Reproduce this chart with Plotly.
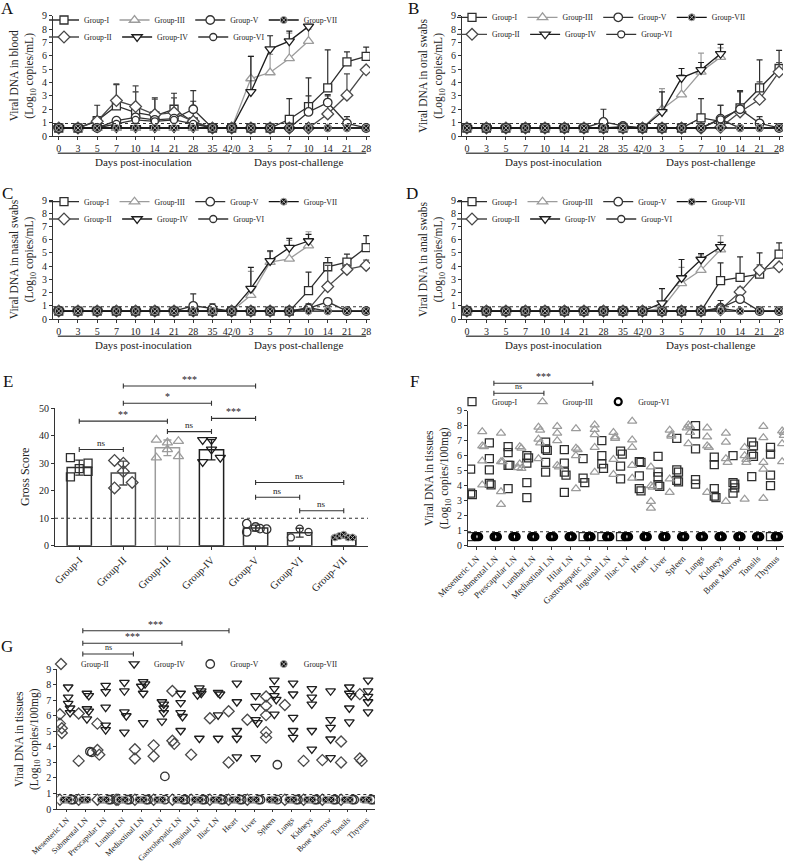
import numpy as np
import plotly.graph_objects as go

W, H = 788, 864
FONT = 'Liberation Serif'
INK = '#222222'

# ---------------- data ----------------
DAYS = ['0', '3', '5', '7', '10', '14', '21', '28', '35', '42/0', '3', '5', '7', '10', '14', '21', '28']
GROUPS = ['Group-I', 'Group-II', 'Group-III', 'Group-IV', 'Group-V', 'Group-VI', 'Group-VII']
LOD = 0.93
N = None
B6 = [0.6] * 10

BLOOD_MEAN = {
    'Group-I':   [0.6, 0.6, 1.15, 2.25, 1.75, 1.5, 2.0, 1.05, 0.6, 0.6, 0.6, 0.6, 1.25, 2.2, 3.6, 5.55, 5.95],
    'Group-II':  [0.6, 0.6, 1.1, 2.65, 2.2, 1.6, 1.75, 1.1, 0.6, 0.6, 0.6, 0.6, 0.6, 0.6, 1.65, 3.05, 4.95],
    'Group-III': B6 + [4.3, 4.75, 5.8, 7.1, N, N, N],
    'Group-IV':  B6 + [3.3, 6.5, 7.1, 8.2, N, N, N],
    'Group-V':   [0.6, 0.6, 0.6, 1.15, 1.4, 1.2, 1.3, 2.0, 0.6, 0.6, 0.6, 0.6, 0.6, 1.8, 2.5, 0.95, 0.6],
    'Group-VI':  [0.6, 0.6, 0.6, 0.9, 1.2, 1.1, 1.2, 0.9, 0.6, 0.6, 0.6, 0.6, 0.6, 0.6, 0.6, 0.6, 0.6],
    'Group-VII': [0.6] * 17,
}
BLOOD_SD = {
    'Group-I':   [N, N, 1.15, 1.6, 1.55, 1.35, 1.2, 1.55, N, N, N, N, 1.55, 2.15, 2.85, 0.75, 0.7],
    'Group-II':  [N, N, N, 1.25, 1.55, 1.15, 1.1, N, N, N, N, N, N, N, 1.35, 1.6, N],
    'Group-III': [N] * 10 + [1.65, 1.35, 1.9, 0.9, N, N, N],
    'Group-IV':  [N] * 10 + [2.65, 1.0, 0.75, 0.15, N, N, N],
    'Group-V':   [N, N, N, N, N, N, N, 1.4, N, N, N, N, N, 1.2, 0.6, 0.5, N],
    'Group-VI':  [N] * 17,
    'Group-VII': [N] * 17,
}
ORAL_MEAN = {
    'Group-I':   B6 + [0.6, 0.6, 1.35, 1.1, 2.1, 3.6, 5.05],
    'Group-II':  B6 + [0.6, 0.6, 0.6, 0.65, 1.8, 2.75, 4.8],
    'Group-III': B6 + [2.0, 3.1, 4.8, 5.9, N, N, N],
    'Group-IV':  B6 + [1.8, 4.35, 4.95, 6.15, N, N, N],
    'Group-V':   [0.6] * 7 + [1.05, 0.75, 0.6] + [0.6, 0.6, 0.6, 1.3, 2.0, 0.95, 0.6],
    'Group-VI':  [0.6] * 8 + [0.7, 0.6] + [0.6, 0.6, 0.6, 1.25, 0.6, 0.6, 0.6],
    'Group-VII': [0.6] * 17,
}
ORAL_SD = {
    'Group-I':   [N] * 12 + [1.45, 1.2, 1.3, 2.1, 1.35],
    'Group-II':  [N] * 14 + [1.5, 1.3, 0.7],
    'Group-III': [N] * 10 + [1.55, 1.5, 1.4, 0.7, N, N, N],
    'Group-IV':  [N] * 10 + [1.5, 0.7, 0.55, 0.7, N, N, N],
    'Group-V':   [N] * 7 + [0.95, N, N, N, N, N, 1.0, 1.35, 0.5, N],
    'Group-VI':  [N] * 17,
    'Group-VII': [N] * 17,
}
NASAL_MEAN = {
    'Group-I':   B6 + [0.6, 0.6, 0.6, 2.15, 3.95, 4.3, 5.4],
    'Group-II':  B6 + [0.6, 0.6, 0.6, 0.75, 2.45, 3.75, 4.05],
    'Group-III': B6 + [1.8, 4.3, 4.55, 5.55, N, N, N],
    'Group-IV':  B6 + [2.3, 4.4, 5.4, 5.9, N, N, N],
    'Group-V':   [0.6] * 7 + [1.0, 0.8, 0.6] + [0.6, 0.6, 0.6, 0.8, 1.3, 0.6, 0.6],
    'Group-VI':  B6 + [0.6, 0.6, 0.6, 0.85, 0.6, 0.6, 0.6],
    'Group-VII': [0.6] * 17,
}
NASAL_SD = {
    'Group-I':   [N] * 13 + [1.4, 0.7, 0.6, 0.9],
    'Group-II':  [N] * 14 + [1.6, 0.35, 0.4],
    'Group-III': [N] * 10 + [1.8, 0.8, 1.4, 1.05, N, N, N],
    'Group-IV':  [N] * 10 + [1.6, 0.75, 0.7, 0.5, N, N, N],
    'Group-V':   [N] * 7 + [0.9, 0.35, N, N, N, N, 0.35, N, N, N],
    'Group-VI':  [N] * 17,
    'Group-VII': [N] * 17,
}
ANAL_MEAN = {
    'Group-I':   B6 + [0.6, 0.6, 0.6, 2.9, 3.15, 3.4, 4.9],
    'Group-II':  B6 + [0.6, 0.6, 0.6, 0.7, 2.05, 3.7, 3.95],
    'Group-III': B6 + [0.8, 2.7, 3.7, 5.25, N, N, N],
    'Group-IV':  B6 + [1.2, 3.1, 4.5, 5.45, N, N, N],
    'Group-V':   B6 + [0.6, 0.6, 0.6, 0.85, 1.5, 0.6, 0.6],
    'Group-VI':  B6 + [0.6, 0.6, 0.6, 0.8, 0.6, 0.6, 0.6],
    'Group-VII': [0.6] * 17,
}
ANAL_SD = {
    'Group-I':   [N] * 13 + [1.35, 1.55, 1.6, 0.85],
    'Group-II':  [N] * 14 + [0.35, 0.4, N],
    'Group-III': [N] * 11 + [1.2, 1.15, 1.05, N, N, N],
    'Group-IV':  [N] * 10 + [1.1, 1.4, 0.45, 0.35, N, N, N],
    'Group-V':   [N] * 13 + [0.55, N, N, N],
    'Group-VI':  [N] * 17,
    'Group-VII': [N] * 17,
}

# Gross scores (individual animals)
GROSS = {
    'Group-I':   [32, 25, 28, 30, 27],
    'Group-II':  [31, 21, 30, 27, 23],
    'Group-III': [38.5, 32, 37.5, 35, 38, 32.5],
    'Group-IV':  [38.5, 38.5, 35, 30.5, 32],
    'Group-V':   [8, 5, 6.8, 6.2, 6],
    'Group-VI':  [6.2, 3, 5],
    'Group-VII': [3, 3.5, 4, 3, 3],
}
GROSS_CUTOFF = 10

TISSUES = ['Mesenteric LN', 'Submental LN', 'Prescapular LN', 'Lumbar LN', 'Mediastinal LN', 'Hilar LN',
           'Gastrohepatic LN', 'Inguinal LN', 'Iliac LN', 'Heart', 'Liver', 'Spleen', 'Lungs', 'Kidneys',
           'Bone Marrow', 'Tonsils', 'Thymus']

F_GROUP_I = [
    [5.1, 3.5, 3.4, 0.6], [6.85, 5.8, 5.05, 4.15, 4.05], [6.6, 6.2, 5.35, 5.35, 3.8], [6.0, 5.85, 5.5, 4.2, 3.2],
    [6.9, 6.45, 6.35, 5.55, 4.9], [6.4, 5.5, 4.9, 4.7, 3.55], [5.8, 4.5, 4.2, 0.6], [7.0, 6.0, 5.45, 5.15, 0.6],
    [6.3, 6.1, 5.3, 4.45, 0.6], [5.6, 5.55, 4.65, 3.8, 3.65], [5.95, 4.9, 4.6, 4.05, 3.95], [7.15, 5.05, 4.9, 4.35, 4.25],
    [8.0, 7.45, 6.45, 4.4, 4.1], [5.9, 5.4, 3.8, 3.3, 3.2], [6.0, 4.2, 4.1, 3.85, 3.5], [6.9, 6.65, 6.1, 5.95, 4.6],
    [6.55, 6.1, 4.7, 4.0, 0.6],
]
F_GROUP_III = [
    [7.6, 6.65, 6.6, 5.65, 4.05], [7.5, 5.6, 5.6, 3.6, 2.75], [6.6, 6.5, 5.45, 5.15, 5.2], [7.9, 7.7, 7.1, 6.85, 5.8],
    [7.95, 7.5, 7.0, 5.35, 5.25], [7.8, 6.5, 6.4, 6.0, 3.8], [8.05, 7.75, 7.4, 6.55, 4.9], [7.55, 7.25, 7.15, 5.75, 4.75],
    [8.3, 7.05, 6.55, 5.35, 4.5], [5.25, 4.0, 3.9, 2.95, 2.5], [7.7, 7.4, 7.3, 4.45, 3.55], [8.05, 7.95, 7.85, 7.55, 6.8],
    [7.85, 7.25, 6.65, 6.55, 3.55], [7.5, 6.9, 5.8, 5.55, 2.95], [6.55, 6.0, 5.75, 5.55, 3.1], [7.95, 7.2, 5.55, 5.1, 3.15],
    [7.65, 7.55, 7.35, 6.8, 5.6],
]
F_GROUP_VI = [[0.6, 0.6, 0.6] for _ in TISSUES]

G_GROUP_II = [
    [6.1, 5.5, 5.2, 4.9, 0.6], [6.15, 3.1, 0.6], [5.5, 3.8, 3.5, 0.6], [0.6, 0.6], [3.85, 3.25, 0.6], [4.1, 3.4, 0.6],
    [7.6, 4.4, 4.2, 0.6], [3.5, 0.6], [5.85, 0.6], [6.3, 3.0, 0.6], [5.75, 0.6], [7.25, 6.65, 6.05, 4.95, 4.6],
    [6.7, 0.6], [3.1, 0.6], [3.15, 0.6], [4.35, 3.0, 0.6], [7.4, 3.25, 3.1],
]
G_GROUP_IV = [
    [7.85, 7.2, 6.8, 6.5, 6.2], [7.45, 7.3, 6.45, 6.3, 5.8], [7.95, 7.55, 6.55, 5.4, 5.1], [8.15, 7.6, 6.25, 6.0, 4.95],
    [8.2, 8.05, 7.9, 7.45, 5.55], [6.9, 6.75, 6.5, 6.2, 5.65], [7.45, 6.85, 6.2, 5.95, 5.05], [7.8, 7.6, 7.45, 7.35, 4.55],
    [7.5, 7.4, 6.05, 4.55], [8.1, 6.9, 5.05, 4.55, 3.35], [7.3, 6.6, 5.75, 5.55, 3.3], [8.3, 7.75, 7.3, 7.05, 6.1],
    [8.1, 7.4, 5.9, 5.05, 4.6], [7.75, 7.2, 6.75, 5.05, 3.85], [7.6, 5.75, 5.25, 4.5, 3.3], [7.85, 7.45, 7.3, 6.5, 5.6],
    [8.3, 7.6, 7.25, 6.9, 6.25],
]
G_GROUP_V = [
    [0.6, 0.6], [3.7, 3.65], [0.6, 0.6], [0.6, 0.6], [0.6, 0.6], [2.1, 0.6], [0.6, 0.6], [0.6, 0.6], [0.6, 0.6],
    [0.6, 0.6], [0.6, 0.6], [2.85, 0.6], [0.6, 0.6], [0.6, 0.6], [0.6, 0.6], [0.6, 0.6], [0.6, 0.6],
]
G_GROUP_VII = [[0.6, 0.6, 0.6, 0.6] for _ in TISSUES]

# ---------------- geometry / style ----------------
GEO = {
    'A': dict(ax=1, x=(53, 370), xr=(-0.3, 16.2), y=(136, 15.7), yr=(0, 9)),
    'B': dict(ax=2, x=(462, 783), xr=(-0.25, 16.2), y=(136, 15.7), yr=(0, 9)),
    'C': dict(ax=3, x=(53, 370), xr=(-0.3, 16.2), y=(319, 200), yr=(0, 9)),
    'D': dict(ax=4, x=(462, 783), xr=(-0.25, 16.2), y=(319, 200), yr=(0, 9)),
    'E': dict(ax=5, x=(55, 368), xr=(-0.55, 6.55), y=(545.7, 408.2), yr=(0, 50)),
    'F': dict(ax=6, x=(468, 784), xr=(-0.46, 16.4), y=(545.7, 410.7), yr=(0, 9)),
    'G': dict(ax=7, x=(57.3, 375), xr=(-0.5, 16.45), y=(809, 669.3), yr=(0, 9)),
}

STYLE = {
    'Group-I':   dict(symbol='square', color='#2e2e2e', size=8),
    'Group-II':  dict(symbol='diamond', color='#4a4a4a', size=9),
    'Group-III': dict(symbol='triangle-up', color='#9c9c9c', size=9),
    'Group-IV':  dict(symbol='triangle-down', color='#1e1e1e', size=9),
    'Group-V':   dict(symbol='circle', color='#333333', size=8.5),
    'Group-VI':  dict(symbol='circle', color='#333333', size=7),
    'Group-VII': dict(symbol='circle-x', color='#111111', size=7),
}


def px(x):
    return x / W


def py(y):
    return 1 - y / H


def xpix(p, v):
    g = GEO[p]
    return g['x'][0] + (v - g['xr'][0]) / (g['xr'][1] - g['xr'][0]) * (g['x'][1] - g['x'][0])


def ypix(p, v):
    g = GEO[p]
    return g['y'][0] + (v - g['yr'][0]) / (g['yr'][1] - g['yr'][0]) * (g['y'][1] - g['y'][0])


def axn(p, letter):
    n = GEO[p]['ax']
    return letter + ('' if n == 1 else str(n))


def spread(vals, center, step=0.09, tol=0.3):
    xs, placed = [], []
    pattern = [0, 1, -1, 2, -2, 3]
    for v in vals:
        k = sum(1 for q in placed if abs(q - v) < tol)
        xs.append(center + pattern[k % len(pattern)] * step)
        placed.append(v)
    return xs


fig = go.Figure()
shapes, annos = [], []
layout = dict(template='none', width=W, height=H, margin=dict(l=0, r=0, t=0, b=0, autoexpand=False),
              paper_bgcolor='white', plot_bgcolor='rgba(0,0,0,0)', barmode='overlay', showlegend=True,
              font=dict(family=FONT, color=INK))

AXBASE = dict(showline=True, linecolor='#333', linewidth=1.2, ticks='outside', ticklen=3, tickwidth=1,
              tickcolor='#333', showgrid=False, zeroline=False, fixedrange=True, automargin=False,
              tickfont=dict(family=FONT, size=10, color=INK))


def set_axes(p, xextra, yextra):
    g = GEO[p]
    xa = dict(AXBASE, domain=[px(g['x'][0]), px(g['x'][1])], range=list(g['xr']), anchor=axn(p, 'y'))
    ya = dict(AXBASE, domain=[py(g['y'][0]), py(g['y'][1])], range=list(g['yr']), anchor=axn(p, 'x'))
    xa.update(xextra)
    ya.update(yextra)
    n = g['ax']
    layout['xaxis' + ('' if n == 1 else str(n))] = xa
    layout['yaxis' + ('' if n == 1 else str(n))] = ya


def legend_cfg(xp, yp, size=7.8):
    return dict(x=px(xp), y=py(yp), xanchor='left', yanchor='middle', orientation='h',
                bgcolor='rgba(0,0,0,0)', borderwidth=0, itemwidth=30, tracegroupgap=0,
                font=dict(family=FONT, size=size, color=INK), itemclick=False, itemdoubleclick=False)


def bracket(x0, x1, yp, label, size=9.5, cap=2.5):
    path = (f"M{px(x0)},{py(yp - cap)} L{px(x0)},{py(yp + cap)} M{px(x0)},{py(yp)} L{px(x1)},{py(yp)} "
            f"M{px(x1)},{py(yp - cap)} L{px(x1)},{py(yp + cap)}")
    shapes.append(dict(type='path', path=path, xref='paper', yref='paper', line=dict(color='#333', width=1.1)))
    annos.append(dict(text=label, x=px((x0 + x1) / 2), y=py(yp - 6.5), xref='paper', yref='paper',
                      showarrow=False, xanchor='center', yanchor='middle',
                      font=dict(family=FONT, size=size, color=INK)))


# ---------------- panels A-D (time courses) ----------------
TIME_PANELS = [
    ('A', BLOOD_MEAN, BLOOD_SD, 'Viral DNA in blood', (44, 20, 37)),
    ('B', ORAL_MEAN, ORAL_SD, 'Viral DNA in oral swabs', (452, 17.3, 34.3)),
    ('C', NASAL_MEAN, NASAL_SD, 'Viral DNA in nasal swabs', (44, 201.7, 219)),
    ('D', ANAL_MEAN, ANAL_SD, 'Viral DNA in anal swabs', (452, 201.7, 219)),
]
ROW1 = ['Group-I', 'Group-III', 'Group-V', 'Group-VII']
xidx = list(range(len(DAYS)))
for k, (p, means, sds, ytitle, (lx, ly1, ly2)) in enumerate(TIME_PANELS):
    leg1 = 'legend' if k == 0 else 'legend' + str(2 * k + 1)
    leg2 = 'legend' + str(2 * k + 2)
    layout[leg1] = legend_cfg(lx, ly1)
    layout[leg2] = legend_cfg(lx, ly2)
    for g in GROUPS:
        st = STYLE[g]
        if g == 'Group-VII':
            marker = dict(symbol='circle-x', color='#111', size=st['size'], line=dict(color='#aaa', width=1))
        else:
            marker = dict(symbol=st['symbol'], color='white', size=st['size'],
                          line=dict(color=st['color'], width=1.3))
        fig.add_trace(go.Scatter(
            x=xidx, y=means[g], mode='lines+markers', name=g,
            line=dict(color=st['color'], width=1.3), marker=marker,
            error_y=dict(type='data', array=sds[g], arrayminus=[0] * len(xidx), symmetric=False,
                         color=st['color'], thickness=1.2, width=3),
            xaxis=axn(p, 'x'), yaxis=axn(p, 'y'), legend=leg1 if g in ROW1 else leg2,
            showlegend=True, hoverinfo='skip'))
    set_axes(p, dict(tickmode='array', tickvals=xidx, ticktext=DAYS, tickangle=0),
             dict(tickmode='array', tickvals=list(range(10)),
                  title=dict(text=ytitle + '<br>(Log<sub>10</sub> copies/mL)',
                             font=dict(family=FONT, size=11.5, color=INK), standoff=5)))
    shapes.append(dict(type='line', xref=axn(p, 'x') + ' domain', x0=0, x1=1, yref=axn(p, 'y'),
                       y0=LOD, y1=LOD, line=dict(color='#333', width=1.1, dash='dot')))
    # day-phase brackets below x axis
    yb = GEO[p]['y'][0] + 17.3
    for a, b, lab in [(-0.05, 8.9, 'Days post-inoculation'), (9.0, 16.0, 'Days post-challenge')]:
        shapes.append(dict(type='line', xref='paper', yref='paper', x0=px(xpix(p, a)), x1=px(xpix(p, b)),
                           y0=py(yb), y1=py(yb), line=dict(color='#555', width=1.6)))
        annos.append(dict(text=lab, x=px(xpix(p, (a + b) / 2)), y=py(yb + 9), xref='paper', yref='paper',
                          showarrow=False, xanchor='center', yanchor='middle',
                          font=dict(family=FONT, size=11, color=INK)))

# ---------------- panel E (gross score) ----------------
JIT = {
    'Group-I': [-0.2, -0.2, 0, 0.2, 0.2],
    'Group-II': [-0.2, -0.2, 0, 0, 0.2],
    'Group-III': [-0.25, -0.25, 0, 0, 0.25, 0.25],
    'Group-IV': [-0.2, 0, 0, -0.2, 0.2],
    'Group-V': [-0.2, -0.2, 0, 0.1, 0.25],
    'Group-VI': [0, -0.2, 0.2],
    'Group-VII': [-0.2, -0.1, 0, 0.1, 0.2],
}
for i, g in enumerate(GROUPS):
    st = STYLE[g]
    vals = np.array(GROSS[g], dtype=float)
    m, sd = vals.mean(), vals.std(ddof=1)
    fig.add_trace(go.Bar(x=[i], y=[m], width=0.55, marker=dict(color='white', line=dict(color=st['color'], width=1.5)),
                         error_y=dict(type='data', array=[sd], color=st['color'], thickness=1.3, width=4),
                         xaxis='x5', yaxis='y5', showlegend=False, hoverinfo='skip'))
for i, g in enumerate(GROUPS):
    st = STYLE[g]
    if g == 'Group-VII':
        marker = dict(symbol='circle-x', color='#111', size=7, line=dict(color='#aaa', width=1))
    else:
        marker = dict(symbol=st['symbol'] + '-open', color=st['color'], size=st['size'], line=dict(width=1.3))
    fig.add_trace(go.Scatter(x=[i + o for o in JIT[g]], y=GROSS[g], mode='markers', marker=marker,
                             xaxis='x5', yaxis='y5', showlegend=False, hoverinfo='skip'))
set_axes('E', dict(tickmode='array', tickvals=list(range(7)), ticktext=GROUPS, tickangle=-45,
                   tickfont=dict(family=FONT, size=10.5, color=INK)),
         dict(tickmode='array', tickvals=[0, 10, 20, 30, 40, 50],
              title=dict(text='Gross Score', font=dict(family=FONT, size=12, color=INK), standoff=6)))
shapes.append(dict(type='line', xref='x5 domain', x0=0, x1=1, yref='y5', y0=GROSS_CUTOFF, y1=GROSS_CUTOFF,
                   line=dict(color='#333', width=1.1, dash='dot')))
E_COMPARISONS = [(1, 4, 58.1, '***'), (1, 3, 51.8, '*'), (0, 2, 45.3, '**'), (3, 4, 46.3, '***'),
                 (2, 3, 41.5, 'ns'), (0, 1, 35.0, 'ns'), (4, 6, 23.0, 'ns'), (4, 5, 17.6, 'ns'), (5, 6, 12.7, 'ns')]
for a, b, h, lab in E_COMPARISONS:
    bracket(xpix('E', a), xpix('E', b), ypix('E', h), lab, size=10 if '*' in lab else 9)

# ---------------- panel F (tissues, groups I / III / VI) ----------------
layout['legend9'] = legend_cfg(452, 401.7)
t_idx = range(len(TISSUES))
F_SETS = [('Group-I', F_GROUP_I, -0.32), ('Group-III', F_GROUP_III, 0.3), ('Group-VI', F_GROUP_VI, 0.02)]
for g, data, c in F_SETS:
    xs, ys = [], []
    for t in t_idx:
        xs += spread(data[t], t + c)
        ys += data[t]
    st = STYLE[g]
    if g == 'Group-VI':
        marker = dict(symbol='circle-open', color='#000', size=7, line=dict(width=2.2))
    else:
        marker = dict(symbol=st['symbol'] + '-open', color=st['color'], size=8, line=dict(width=1.3))
    fig.add_trace(go.Scatter(x=xs, y=ys, mode='markers', name=g, marker=marker, xaxis='x6', yaxis='y6',
                             legend='legend9', showlegend=True, hoverinfo='skip'))
set_axes('F', dict(tickmode='array', tickvals=list(t_idx), ticktext=TISSUES, tickangle=-45,
                   tickfont=dict(family=FONT, size=9, color=INK)),
         dict(tickmode='array', tickvals=list(range(10)),
              title=dict(text='Viral DNA in tissues<br>(Log<sub>10</sub> copies/100mg)',
                         font=dict(family=FONT, size=11.5, color=INK), standoff=5)))
shapes.append(dict(type='line', xref='x6 domain', x0=0, x1=1, yref='y6', y0=LOD, y1=LOD,
                   line=dict(color='#333', width=1.1, dash='dot')))
for a, b, yp, lab in [(0.92, 6.2, 383.3, '***'), (0.92, 3.59, 393.3, 'ns')]:
    bracket(xpix('F', a), xpix('F', b), yp, lab, size=10 if '*' in lab else 8)

# ---------------- panel G (tissues, groups II / IV / V / VII) ----------------
layout['legend10'] = legend_cfg(41, 664)
G_SETS = [('Group-II', G_GROUP_II, -0.36), ('Group-IV', G_GROUP_IV, 0.08), ('Group-V', G_GROUP_V, 0.24),
          ('Group-VII', G_GROUP_VII, -0.08)]
for g, data, c in G_SETS:
    xs, ys = [], []
    for t in t_idx:
        xs += spread(data[t], t + c, step=0.1)
        ys += data[t]
    st = STYLE[g]
    if g == 'Group-VII':
        marker = dict(symbol='circle-x', color='#111', size=7, line=dict(color='#aaa', width=1))
    else:
        marker = dict(symbol=st['symbol'] + '-open', color=st['color'], size=8.5, line=dict(width=1.3))
    fig.add_trace(go.Scatter(x=xs, y=ys, mode='markers', name=g, marker=marker, xaxis='x7', yaxis='y7',
                             legend='legend10', showlegend=True, hoverinfo='skip'))
set_axes('G', dict(tickmode='array', tickvals=list(t_idx), ticktext=TISSUES, tickangle=-45, ticklen=2,
                   tickfont=dict(family=FONT, size=8.1, color=INK)),
         dict(tickmode='array', tickvals=list(range(10)),
              title=dict(text='Viral DNA in tissues<br>(Log<sub>10</sub> copies/100mg)',
                         font=dict(family=FONT, size=11.5, color=INK), standoff=5)))
shapes.append(dict(type='line', xref='x7 domain', x0=0, x1=1, yref='y7', y0=LOD, y1=LOD,
                   line=dict(color='#333', width=1.1, dash='dot')))
for a, b, yp, lab in [(0.86, 8.66, 630.7, '***'), (0.86, 6.15, 643.3, '***'), (0.86, 3.56, 654, 'ns')]:
    bracket(xpix('G', a), xpix('G', b), yp, lab, size=10 if '*' in lab else 8)

# ---------------- panel letters ----------------
for lab, (lx, ly) in {'A': (8, 9), 'B': (413, 8), 'C': (8, 193), 'D': (412, 193), 'E': (8, 381),
                      'F': (414, 381), 'G': (7, 646)}.items():
    annos.append(dict(text=lab, x=px(lx), y=py(ly), xref='paper', yref='paper', showarrow=False,
                      xanchor='center', yanchor='middle', font=dict(family=FONT, size=17, color='#111')))

layout['shapes'] = shapes
layout['annotations'] = annos
fig.update_layout(**layout)
fig.write_html('out.html')
